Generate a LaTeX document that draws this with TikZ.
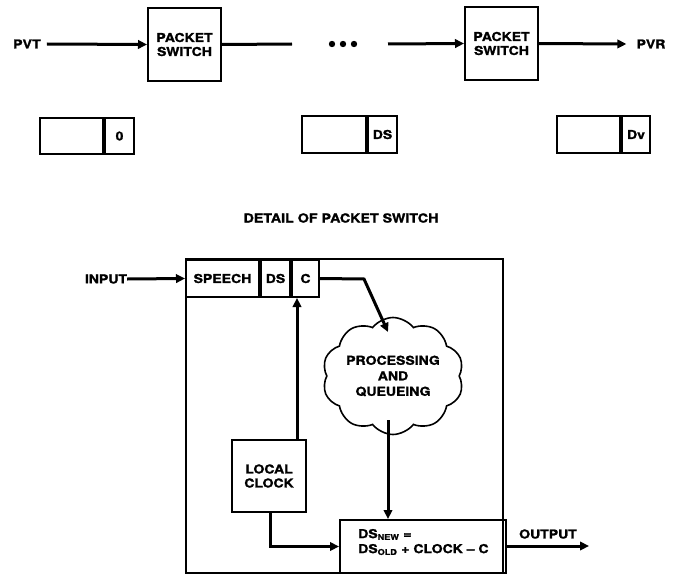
\documentclass[tikz,border=0pt]{standalone}
\usepackage{fontspec}
\setmainfont{TeX Gyre Heros}[FakeStretch=1.14,BoldFeatures={FakeBold=1.4}]
\usetikzlibrary{arrows.meta,shapes.symbols,calc}
\tikzset{
  arr/.style={line width=3pt,-{Triangle[length=9pt,width=8.5pt]}},
  ln/.style={line width=3pt},
  box/.style={draw,line width=2pt,inner sep=0pt,align=center,font=\fontsize{12.3}{14}\selectfont\bfseries},
  lbl/.style={inner sep=0pt,font=\fontsize{12.3}{14}\selectfont\bfseries},
}
\begin{document}
\begin{tikzpicture}[x=1pt,y=-1pt]
\useasboundingbox (0,0) rectangle (674,575);
% top row
\node[box,minimum width=73pt,minimum height=73pt] (ps1) at (184.5,44.5) {PACKET\\SWITCH};
\node[box,minimum width=73pt,minimum height=73pt] (ps2) at (501.5,43.5) {PACKET\\SWITCH};
\node[lbl] (pvt) at (27,44) {PVT};
\node[lbl] (pvr) at (651,44) {PVR};
\draw[arr] ($(pvt.east)+(6,0)$) -- (ps1.west);
\coordinate (l1) at (292,44);
\coordinate (l2) at (388,44);
\draw[ln] (ps1.east) -- (l1);
\draw[arr] (l2) -- (ps2.west);
\draw[arr] (ps2.east) -- ($(pvr.west)+(-10,0)$);
\foreach \x in {332,343,354} \fill (\x,44) circle (3.2);
% packet boxes
\node[box,minimum width=63pt,minimum height=36pt] (b1a) at (71.5,136) {};
\node[box,minimum width=29pt,minimum height=36pt,anchor=west] (b1b) at (b1a.east) {0};
\node[box,minimum width=64pt,minimum height=37pt] (b2a) at (334,134.5) {};
\node[box,minimum width=29pt,minimum height=37pt,anchor=west] (b2b) at (b2a.east) {DS};
\node[box,minimum width=63pt,minimum height=37pt] (b3a) at (588.5,134.5) {};
\node[box,minimum width=28pt,minimum height=37pt,anchor=west] (b3b) at (b3a.east) {Dv};
% title
\node[lbl,font=\fontsize{12.5}{14}\selectfont\bfseries] (title) at (341,218) {DETAIL OF PACKET SWITCH};
% detail
\node[draw,line width=1.8pt,minimum width=317pt,minimum height=314pt,inner sep=0pt] (outer) at (344.5,416) {};
\node[box,minimum width=73pt,minimum height=37pt] (sp) at (222.5,278.5) {SPEECH};
\node[box,minimum width=29pt,minimum height=37pt,anchor=west] (ds) at (sp.east) {DS};
\node[box,minimum width=27pt,minimum height=37pt,anchor=west] (c) at (ds.east) {C};
\node[lbl] (inp) at (106,279) {INPUT};
\draw[arr] (inp.east) -- (sp.west);
\node[draw,cloud,cloud puffs=10,cloud puff arc=105,aspect=1.3,line width=1.6pt,minimum width=112pt,minimum height=86pt,inner sep=0pt,align=center,font=\fontsize{12.3}{15.5}\selectfont\bfseries] (cl) at (393,376) {PROCESSING\\AND\\QUEUEING};
\coordinate (bend) at (364,279);
\draw[arr] (c.east) -- (bend) -- (388,332);
\node[box,minimum width=74pt,minimum height=72pt] (clk) at (269,476) {LOCAL\\CLOCK};
\node[box,minimum width=166pt,minimum height=53pt] (dsn) at (423,546.5) {};
\node[lbl,anchor=west,align=left,font=\fontsize{12.3}{15}\selectfont\bfseries] (eq) at (358,542) {DS$_{\textbf{\footnotesize NEW}}$ =\\DS$_{\textbf{\footnotesize OLD}}$ + CLOCK -- C};
\draw[arr] (388,420) -- (dsn.north -| 388,0);
\draw[arr] ([xshift=28pt]clk.north) -- ([xshift=28pt]clk.north |- c.south);
\draw[arr] ([xshift=1pt]clk.south) |- (dsn.west);
\node[lbl] (out) at (548,534) {OUTPUT};
\coordinate (oe) at (589,546);
\draw[arr] (dsn.east |- oe) -- (oe);
\end{tikzpicture}
\end{document}
